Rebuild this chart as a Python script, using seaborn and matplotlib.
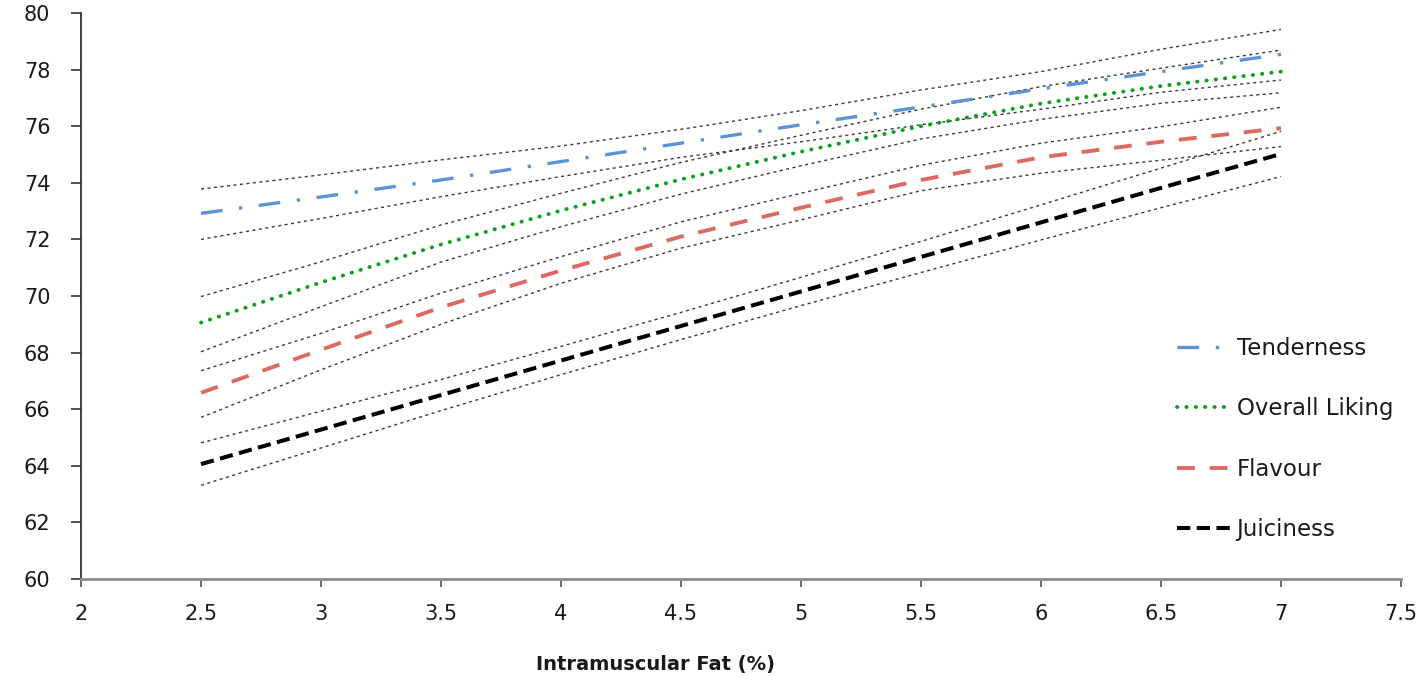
import numpy as np
import pandas as pd
import matplotlib
matplotlib.use("Agg")
import matplotlib.pyplot as plt
import seaborn as sns

# ---------------- data ----------------
fat = [2.5, 3.0, 3.5, 4.0, 4.5, 5.0, 5.5, 6.0, 6.5, 7.0]

tenderness       = [72.92, 73.50, 74.10, 74.75, 75.40, 76.05, 76.68, 77.32, 77.93, 78.54]
tenderness_upper = [73.78, 74.28, 74.81, 75.30, 75.89, 76.55, 77.28, 77.93, 78.72, 79.42]
tenderness_lower = [72.00, 72.74, 73.51, 74.22, 74.90, 75.45, 76.05, 76.60, 77.20, 77.63]

overall       = [69.06, 70.48, 71.82, 73.02, 74.12, 75.10, 76.00, 76.80, 77.42, 77.93]
overall_upper = [69.98, 71.21, 72.51, 73.63, 74.72, 75.68, 76.60, 77.40, 78.05, 78.69]
overall_lower = [68.03, 69.62, 71.20, 72.45, 73.60, 74.60, 75.55, 76.24, 76.81, 77.18]

flavour       = [66.58, 68.10, 69.60, 70.90, 72.10, 73.12, 74.10, 74.90, 75.45, 75.93]
flavour_upper = [67.36, 68.68, 70.10, 71.39, 72.62, 73.63, 74.62, 75.40, 75.98, 76.67]
flavour_lower = [65.71, 67.39, 69.00, 70.45, 71.69, 72.69, 73.72, 74.34, 74.80, 75.28]

juiciness       = [64.06, 65.28, 66.50, 67.72, 68.94, 70.16, 71.38, 72.60, 73.82, 75.02]
juiciness_upper = [64.81, 65.93, 67.05, 68.22, 69.42, 70.66, 71.93, 73.22, 74.52, 75.82]
juiciness_lower = [63.31, 64.63, 65.95, 67.22, 68.46, 69.66, 70.83, 71.98, 73.12, 74.22]

series_names = ["Tenderness", "Overall Liking", "Flavour", "Juiciness"]
x_ticks = [2, 2.5, 3, 3.5, 4, 4.5, 5, 5.5, 6, 6.5, 7, 7.5]
x_tick_labels = ["2", "2.5", "3", "3.5", "4", "4.5", "5", "5.5", "6", "6.5", "7", "7.5"]
y_ticks = [60, 62, 64, 66, 68, 70, 72, 74, 76, 78, 80]
x_label = "Intramuscular Fat (%)"

# ---------------- build tables ----------------
main_df = pd.DataFrame({
    "fat": fat * 4,
    "score": tenderness + overall + flavour + juiciness,
    "series": sum([[n] * len(fat) for n in series_names], []),
})
band_df = pd.DataFrame({
    "fat": fat * 8,
    "score": (tenderness_upper + tenderness_lower + overall_upper + overall_lower +
              flavour_upper + flavour_lower + juiciness_upper + juiciness_lower),
    "band": sum([[f"b{i}"] * len(fat) for i in range(8)], []),
})

# ---------------- style ----------------
sns.set_theme(style="white")
plt.rcParams["font.family"] = ["DejaVu Sans"]

W, H = 1428, 676
fig = plt.figure(figsize=(W / 100, H / 100), dpi=100)
ax = fig.add_axes([81 / W, 1 - 579 / H, 1320 / W, 566 / H])

# confidence bands (thin dotted)
for b in band_df["band"].unique():
    sub = band_df[band_df["band"] == b]
    sns.lineplot(data=sub, x="fat", y="score", ax=ax, color="#3a3a3a",
                 linewidth=1.0, linestyle=(0, (2.2, 2.5)), legend=False,
                 estimator=None, sort=False)

styles = {
    "Tenderness":     dict(color="#5B93D3", linewidth=2.4, linestyle=(0, (6.5, 5.0, 1.0, 5.0)), dash_capstyle="butt"),
    "Overall Liking": dict(color="#0FA01F", linewidth=2.8, linestyle=(0, (0.1, 2.3)), dash_capstyle="round"),
    "Flavour":        dict(color="#DB6A62", linewidth=2.8, linestyle=(0, (4.6, 3.8)), dash_capstyle="butt"),
    "Juiciness":      dict(color="#000000", linewidth=2.9, linestyle=(0, (3.3, 1.6)), dash_capstyle="butt"),
}

handles = []
for name in series_names:
    sub = main_df[main_df["series"] == name]
    sns.lineplot(data=sub, x="fat", y="score", ax=ax, legend=False,
                 estimator=None, sort=False, **styles[name])
    handles.append(ax.lines[-1])

# ---------------- axes ----------------
ax.set_xlim(2, 7.5)
ax.set_ylim(60, 80)
ax.set_xticks(x_ticks)
ax.set_xticklabels(x_tick_labels)
ax.set_yticks(y_ticks)
ax.set_ylabel("")
ax.set_xlabel(x_label, fontsize=14, fontweight="bold", color="#1a1a1a")
ax.xaxis.set_label_coords((656 - 81) / 1320, -0.135)

for s in ["top", "right"]:
    ax.spines[s].set_visible(False)
ax.spines["left"].set_color("#333333")
ax.spines["left"].set_linewidth(1.3)
ax.spines["bottom"].set_color("#8c8c8c")
ax.spines["bottom"].set_linewidth(2.0)

ax.tick_params(axis="y", direction="out", length=7, width=1.2, color="#333333",
               labelsize=15, labelcolor="#1a1a1a", pad=15, left=True)
ax.tick_params(axis="x", direction="out", length=6, width=1.2, color="#555555",
               labelsize=15, labelcolor="#1a1a1a", pad=12, bottom=True)
ax.grid(False)

fig.legend(handles, series_names, loc="upper left",
           bbox_to_anchor=(1177 / W, 1 - 337 / H), frameon=False,
           fontsize=16.5, handlelength=2.4, handletextpad=0.2,
           labelspacing=1.63, borderpad=0, borderaxespad=0,
           labelcolor="#1a1a1a")

fig.savefig("out.png", dpi=100)
